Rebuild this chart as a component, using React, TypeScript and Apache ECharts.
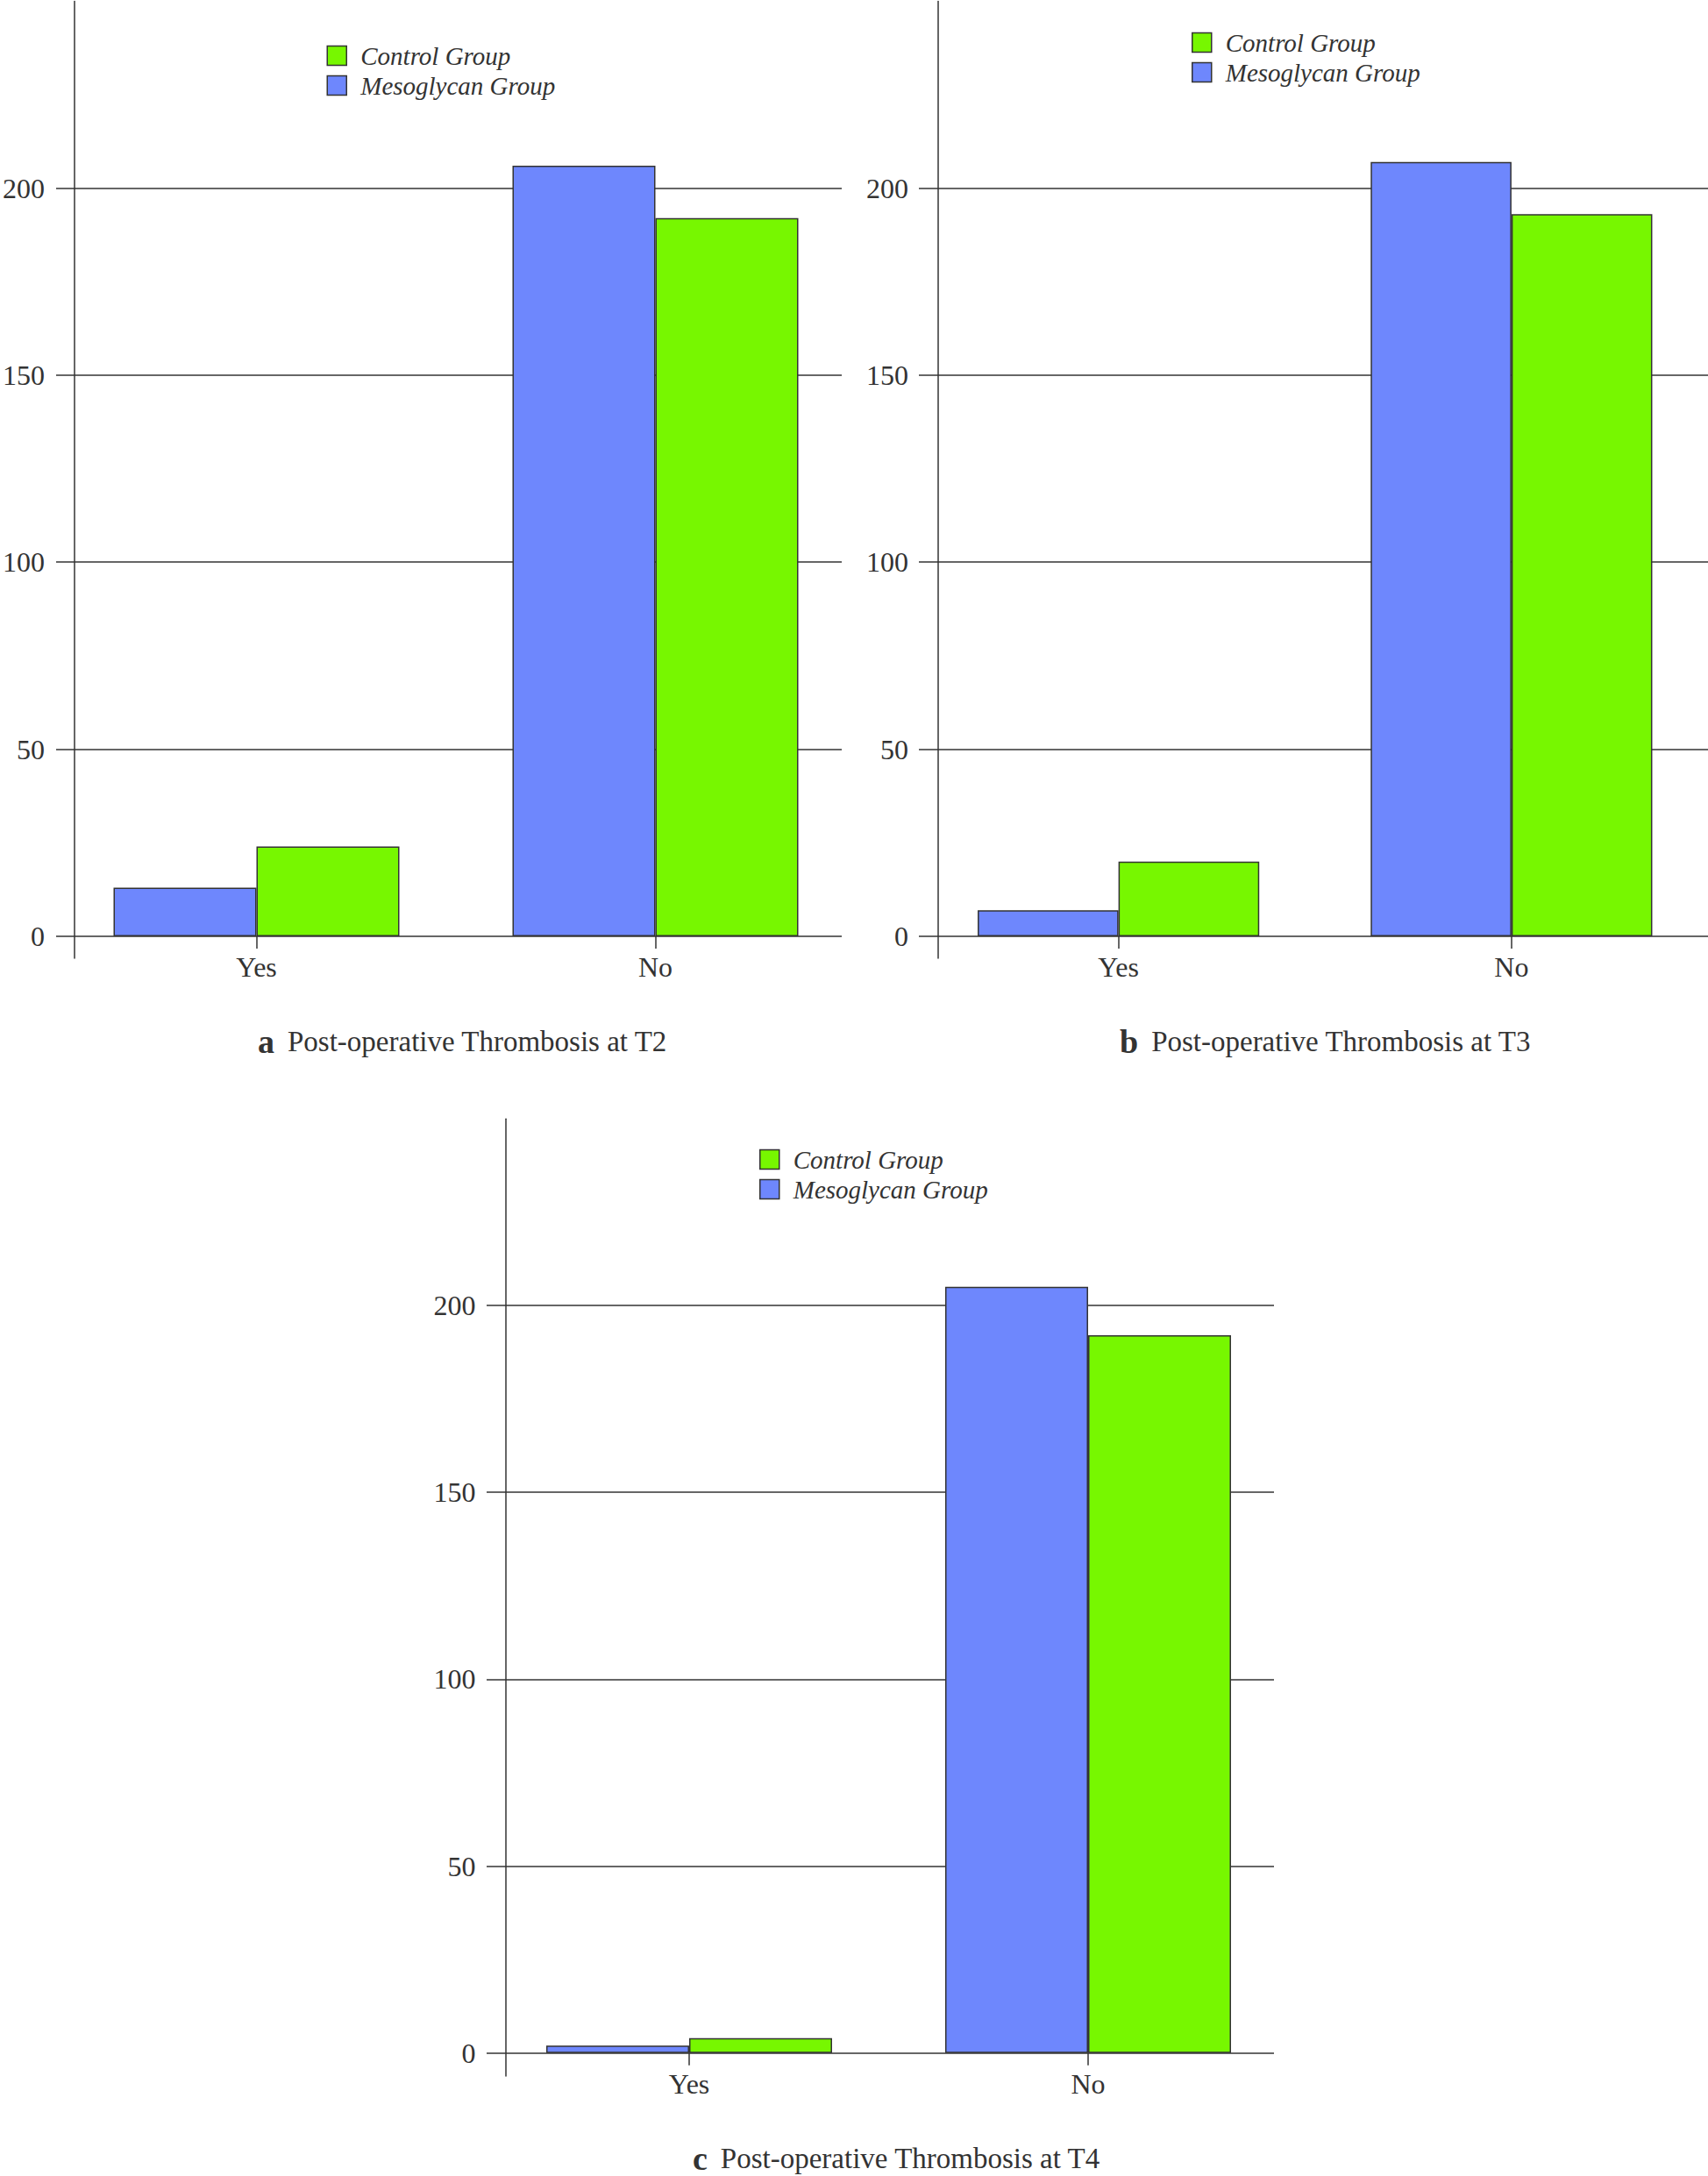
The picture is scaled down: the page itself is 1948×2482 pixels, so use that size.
import React, { useEffect, useRef } from "react";
import * as echarts from "echarts";

// ---- data ----
const categories = ["Yes", "No"];
const legendOrder = ["Control Group", "Mesoglycan Group"];
const mesoglycanT2 = [13, 206];
const controlT2 = [24, 192];
const mesoglycanT3 = [7, 207];
const controlT3 = [20, 193];
const mesoglycanT4 = [2, 205];
const controlT4 = [4, 192];
const yTickLabels = [0, 50, 100, 150, 200];
const panelLetters = ["a", "b", "c"];
const panelTitles = [
  "Post-operative Thrombosis at T2",
  "Post-operative Thrombosis at T3",
  "Post-operative Thrombosis at T4",
];
const panelMeso = [mesoglycanT2, mesoglycanT3, mesoglycanT4];
const panelControl = [controlT2, controlT3, controlT4];

// ---- layout (pixels) ----
const layouts = [
  { y0: 1068, y200: 214.5, bottom: 1093, linesL: 62, linesR: 960, axisX: 83, yesC: 292.5, legL: 372.5, legT: 51, titleL: 294, titleC: 1188 },
  { y0: 1068, y200: 214.5, bottom: 1093, linesL: 1048, linesR: 1948, axisX: 1070, yesC: 1279, legL: 1359, legT: 36, titleL: 1277, titleC: 1188 },
  { y0: 2341.7, y200: 1489, bottom: 2368, linesL: 555, linesR: 1453, axisX: 576.5, yesC: 786, legL: 866, legT: 1310, titleL: 790, titleC: 2462 },
];

const BLUE = "#6E87FD";
const GREEN = "#77F700";
const INK = "#333333";
const SERIF = "'Liberation Serif', 'Times New Roman', serif";
const BAND = 455;
const YMAX = 249.9;

export default function App() {
  const ref = useRef<HTMLDivElement>(null);
  useEffect(() => {
    document.body.style.margin = "0";
    const chart = echarts.init(ref.current!, null, { renderer: "svg" });
    const grid: any[] = [];
    const xAxis: any[] = [];
    const yAxis: any[] = [];
    const series: any[] = [];
    const legend: any[] = [];
    const title: any[] = [];

    layouts.forEach((L, i) => {
      const k = (L.y0 - L.y200) / 200;
      const top = L.y0 - YMAX * k;
      const yMin = -(L.bottom - L.y0) / k;
      const gB = grid.length;
      grid.push({ left: L.linesL, top, width: L.linesR - L.linesL, height: L.bottom - top });
      xAxis.push({ gridIndex: gB, type: "value", min: 0, max: 1, show: false });
      yAxis.push({
        gridIndex: gB,
        type: "value",
        min: yMin,
        max: YMAX,
        offset: -(L.axisX - L.linesL),
        axisLine: { show: true, lineStyle: { color: INK, width: 1.5 } },
        axisTick: { show: false },
        axisLabel: {
          showMinLabel: false,
          showMaxLabel: false,
          margin: 34,
          fontFamily: SERIF,
          fontSize: 32,
          color: INK,
          formatter: (v: number) => {
            const r = Math.round(v);
            return Math.abs(v - r) < 1e-6 && yTickLabels.includes(r) ? String(r) : "";
          },
        },
        splitLine: { show: true, showMinLine: false, showMaxLine: false, lineStyle: { color: INK, width: 1.5 } },
      });
      const gA = grid.length;
      grid.push({ left: L.yesC - BAND / 2, top, width: BAND * 2, height: L.y0 - top });
      xAxis.push({
        gridIndex: gA,
        type: "category",
        data: categories,
        axisLine: { show: false },
        axisTick: { show: true, alignWithLabel: true, length: 14, lineStyle: { color: INK, width: 1.5 } },
        axisLabel: { margin: 19, fontFamily: SERIF, fontSize: 32, color: INK },
      });
      yAxis.push({ gridIndex: gA, type: "value", min: 0, max: YMAX, show: false });
      series.push({
        type: "bar",
        name: "Mesoglycan Group",
        xAxisIndex: gA,
        yAxisIndex: gA,
        data: panelMeso[i],
        barGap: "0%",
        barCategoryGap: "28.35%",
        itemStyle: { color: BLUE, borderColor: INK, borderWidth: 1.5 },
      });
      series.push({
        type: "bar",
        name: "Control Group",
        xAxisIndex: gA,
        yAxisIndex: gA,
        data: panelControl[i],
        barGap: "0%",
        barCategoryGap: "28.35%",
        itemStyle: { color: GREEN, borderColor: INK, borderWidth: 1.5 },
      });
      legend.push({
        data: legendOrder,
        orient: "vertical",
        left: L.legL,
        top: L.legT - 2,
        padding: 0,
        icon: "rect",
        itemWidth: 22,
        itemHeight: 22,
        itemGap: 5,
        selectedMode: false,
        itemStyle: { borderColor: INK, borderWidth: 1.5 },
        textStyle: {
          fontFamily: SERIF,
          fontStyle: "italic",
          fontSize: 29,
          color: INK,
          padding: [0, 0, 0, 11],
        },
      });
      title.push({
        text: `{l|${panelLetters[i]}}{t|${panelTitles[i]}}`,
        left: L.titleL,
        top: L.titleC - 18,
        padding: 0,
        textStyle: {
          fontWeight: "normal",
          rich: {
            l: { fontFamily: SERIF, fontWeight: "bold", fontSize: 38, color: INK, lineHeight: 36, padding: [0, 15, 0, 0] },
            t: { fontFamily: SERIF, fontWeight: "normal", fontSize: 33, color: INK, lineHeight: 36 },
          },
        },
      });
    });

    chart.setOption({
      animation: false,
      backgroundColor: "#ffffff",
      title,
      legend,
      grid,
      xAxis,
      yAxis,
      series,
    });
    return () => chart.dispose();
  }, []);
  return <div ref={ref} style={{ width: 1948, height: 2482 }} />;
}
